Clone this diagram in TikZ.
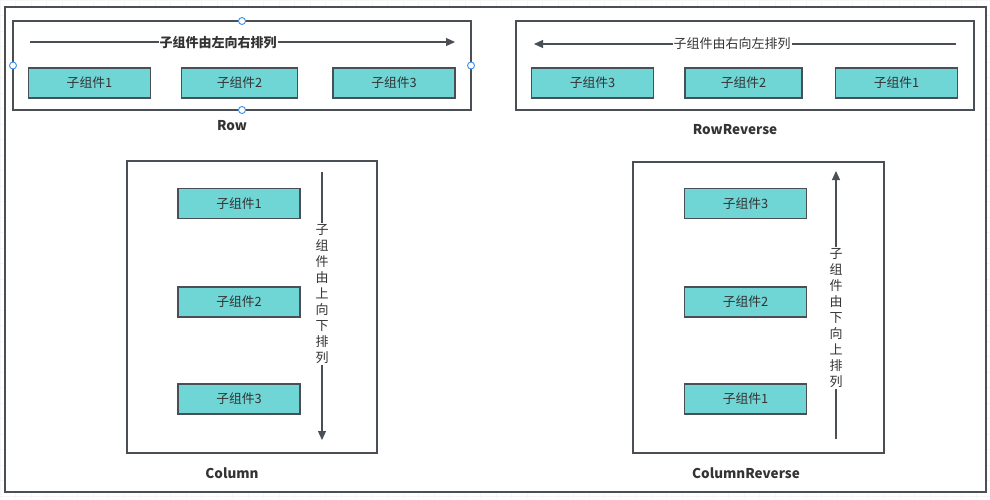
\documentclass[tikz,border=0pt]{standalone}
\usepackage{fontspec}
\setmainfont{Noto Sans CJK SC}
\usetikzlibrary{arrows.meta}
\definecolor{edgegray}{HTML}{4A4F55}
\definecolor{kidfill}{HTML}{6FD5D5}
\definecolor{txtgray}{HTML}{333333}
\definecolor{handleblue}{HTML}{3A8EF0}
\begin{document}
\begin{tikzpicture}[x=1pt, y=-1pt, line width=1.3pt,
  kid/.style={draw=edgegray, fill=kidfill, minimum width=122pt, minimum height=30pt, inner sep=0pt, text=txtgray, font=\fontsize{12.8}{14}\selectfont},
  frame/.style={draw=edgegray, fill=white},
  flow/.style={draw=edgegray, line width=1.1pt, -{Triangle[length=9pt, width=8pt]}},
  flowtext/.style={fill=white, inner sep=1pt, text=txtgray, font=\fontsize{13}{16}\selectfont},
  title/.style={text=txtgray, font=\fontsize{13.5}{16}\selectfont\bfseries},
  handle/.style={circle, draw=handleblue, fill=white, line width=0.9pt, minimum size=7pt, inner sep=0pt}]
  \useasboundingbox (0,0) rectangle (990,499);
  \draw[gray!7, line width=0.6pt, step=15.5pt] (0,0) grid (990,499);
  \draw[frame, line width=2pt] (4.5,7) rectangle (986,492);
  % Row
  \draw[frame] (13,21) rectangle (471,110);
  \coordinate (rowS) at (30,42);
  \coordinate (rowE) at (455,42);
  \draw[flow] (rowS) -- (rowE);
  \node[flowtext, font=\fontsize{13}{16}\selectfont\bfseries] (rowT) at (218,43) {子组件由左向右排列};
  \node[kid] (row1) at (89.5,83) {子组件1};
  \node[kid, minimum width=116pt] (row2) at (239.5,83) {子组件2};
  \node[kid] (row3) at (394,83) {子组件3};
  \node[title] (rowL) at (232,126) {Row};
  \node[handle] (hT) at (242,21) {};
  \node[handle] (hB) at (242,110) {};
  \node[handle] (hL) at (13,65.5) {};
  \node[handle] (hR) at (471,65.5) {};
  % RowReverse
  \draw[frame] (516,21) rectangle (974,110);
  \coordinate (rrS) at (956,44);
  \coordinate (rrE) at (534,44);
  \draw[flow] (rrS) -- (rrE);
  \node[flowtext] (rrT) at (732,44) {子组件由右向左排列};
  \node[kid] (rr3) at (592.5,83) {子组件3};
  \node[kid, minimum width=117pt] (rr2) at (743.5,83) {子组件2};
  \node[kid] (rr1) at (896.5,83) {子组件1};
  \node[title] (rrL) at (735,130) {RowReverse};
  % Column
  \draw[frame] (127,161) rectangle (377,453);
  \coordinate (colS) at (322,172);
  \coordinate (colE) at (322,440);
  \draw[flow] (colS) -- (colE);
  \node[flowtext, align=center] (colT) at (322,294) {子\\组\\件\\由\\上\\向\\下\\排\\列};
  \node[kid] (col1) at (239,203.5) {子组件1};
  \node[kid] (col2) at (239,302) {子组件2};
  \node[kid] (col3) at (239,399) {子组件3};
  \node[title] (colL) at (232,473) {Column};
  % ColumnReverse
  \draw[frame] (633,162) rectangle (884,453);
  \coordinate (crS) at (836,439);
  \coordinate (crE) at (836,171);
  \draw[flow] (crS) -- (crE);
  \node[flowtext, align=center] (crT) at (836,318) {子\\组\\件\\由\\下\\向\\上\\排\\列};
  \node[kid] (cr3) at (745.5,203.5) {子组件3};
  \node[kid] (cr2) at (745.5,302) {子组件2};
  \node[kid] (cr1) at (745.5,399) {子组件1};
  \node[title] (crL) at (746,473) {ColumnReverse};
\end{tikzpicture}
\end{document}
